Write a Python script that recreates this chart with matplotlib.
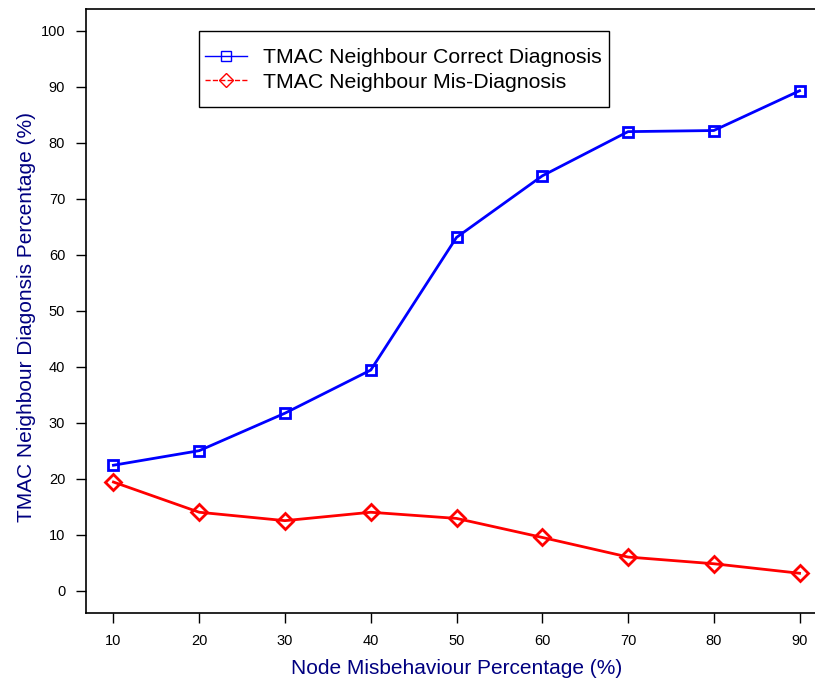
import matplotlib
matplotlib.use("Agg")
import matplotlib.pyplot as plt
from matplotlib.lines import Line2D
from matplotlib.patches import Rectangle

plt.rcParams['font.family'] = ['Liberation Sans', 'DejaVu Sans']

# data
misbehaviour = [10, 20, 30, 40, 50, 60, 70, 80, 90]
correct_diag = [22.4, 25.0, 31.7, 39.4, 63.1, 74.1, 82.0, 82.2, 89.3]
mis_diag = [19.4, 14.0, 12.5, 14.0, 12.9, 9.5, 6.0, 4.8, 3.1]
y_ticks = [0, 10, 20, 30, 40, 50, 60, 70, 80, 90, 100]

label_color = '#000080'

fig = plt.figure(figsize=(8.15, 6.84), dpi=100)
# axes box runs a little past the right edge, as in the reference
ax_l, ax_t, ax_r, ax_b = 86, 8.5, 827, 613
ax = fig.add_axes([ax_l / 815, 1 - ax_b / 684, (ax_r - ax_l) / 815, (ax_b - ax_t) / 684])

ax.plot(misbehaviour, correct_diag, color='blue', lw=2, marker='s', ms=7,
        mfc='none', mec='blue', mew=2)
ax.plot(misbehaviour, mis_diag, color='red', lw=2, marker='D', ms=8.5,
        mfc='none', mec='red', mew=2)

ax.set_xlim(6.8, 93.2)
ax.set_ylim(-4, 104)
ax.set_xticks(misbehaviour)
ax.set_yticks(y_ticks)
ax.tick_params(direction='out', length=7, width=1, labelsize=10.5, pad=8)
for s in ax.spines.values():
    s.set_linewidth(1.2)

ax.set_xlabel('Node Misbehaviour Percentage (%)', fontsize=15, color=label_color)
ax.xaxis.set_label_coords(0.5, -0.076)
ax.set_ylabel('TMAC Neighbour Diagonsis Percentage (%)', fontsize=15, color=label_color)
ax.yaxis.set_label_coords(-0.068, 0.49)


def px_to_ax(x, y):
    return (x - ax_l) / (ax_r - ax_l), (ax_b - y) / (ax_b - ax_t)


# legend box drawn by hand so the padding can match the R-style legend
bx0, by0 = px_to_ax(199, 107)
bx1, by1 = px_to_ax(609, 31)
ax.add_patch(Rectangle((bx0, by0), bx1 - bx0, by1 - by0, transform=ax.transAxes,
                       fill=True, facecolor='white', edgecolor='black', lw=1, zorder=4))

handles = [
    Line2D([], [], color='blue', lw=1, marker='s', ms=7, mfc='none', mec='blue', mew=1),
    Line2D([], [], color='red', lw=1, ls='--', marker='D', ms=7, mfc='none', mec='red', mew=1),
]
leg = ax.legend(handles, ['TMAC Neighbour Correct Diagnosis', 'TMAC Neighbour Mis-Diagnosis'],
                loc='center left', bbox_to_anchor=px_to_ax(205, 70),
                prop={'size': 15.3}, frameon=False,
                handlelength=2.0, handletextpad=0.75, labelspacing=0.26, borderpad=0,
                borderaxespad=0)
leg.set_zorder(5)

fig.savefig('out.png', dpi=100)
